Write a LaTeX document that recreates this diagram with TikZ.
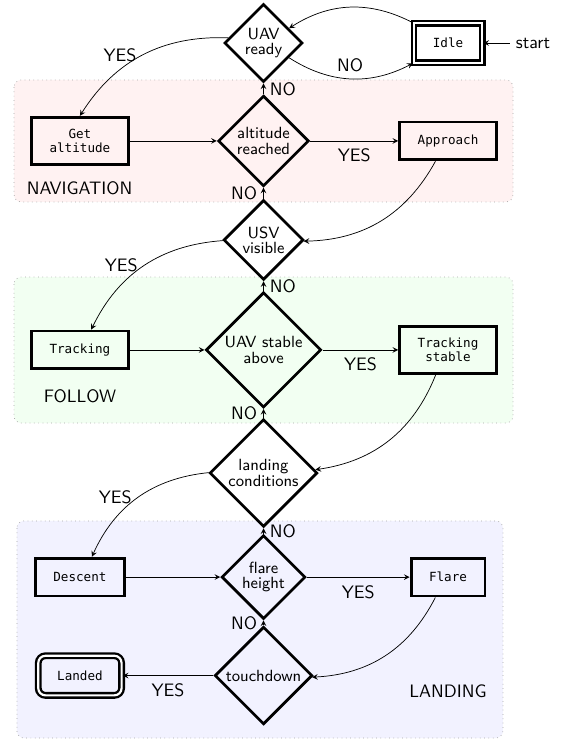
\documentclass[tikz,border=0pt]{standalone}
\usepackage{amssymb,amsmath}
\usepackage[usenames,dvipsnames]{xcolor}
\usepackage{fontspec}
\setmonofont{DejaVu Sans Mono}
\usepackage{tikz}
\usetikzlibrary{shapes.geometric}

\begin{document}
\sffamily
\begin{tikzpicture}[>=stealth,
  box/.style={draw, line width=1.6pt, font=\ttfamily\scriptsize, align=center, inner xsep=10pt, inner ysep=6.5pt, minimum height=21pt},
  endbox/.style={box, double, line width=1.3pt, double distance=1.2pt, inner xsep=10.5pt, minimum height=22pt},
  cond/.style={draw, diamond, aspect=1, line width=1.5pt, font={\sffamily\small\setlength{\baselineskip}{8.5pt}}, align=center, inner sep=1.5pt},
  region/.style={draw=gray!70, dotted, rounded corners=4pt}]
  \useasboundingbox (0,0) rectangle (31.17em,-41.11em);
  \foreach \ytop/\ybot/\xl/\xr/\col in {-4.44/-11.22/0.78/28.5/red,-15.39/-23.5/0.78/28.5/green,-28.94/-41/0.94/27.94/blue}
  	\filldraw[region, fill=\col!5] (\xl em,\ytop em) rectangle (\xr em,\ybot em);
  \node (navlabel) at (4.42em,-10.44em) {NAVIGATION};
  \node (followlabel) at (4.44em,-22em) {FOLLOW};
  \node (landinglabel) at (24.89em,-38.39em) {LANDING};
  
  \node[endbox] (idle) at (24.89em,-2.39em) {Idle};
  \node (start) at (29.61em,-2.39em) {start};
  \node[cond] (uavready) at (14.64em,-2.39em) {UAV\\ready};
  \node[box] (getalt) at (4.44em,-7.83em) {Get\\altitude};
  \node[cond] (altreached) at (14.64em,-7.83em) {altitude\\reached};
  \node[box] (approach) at (24.89em,-7.83em) {Approach};
  \node[cond] (usvvisible) at (14.64em,-13.33em) {USV\\visible};
  \node[box] (tracking) at (4.44em,-19.44em) {Tracking};
  \node[cond] (stable) at (14.64em,-19.44em) {UAV stable\\above};
  \node[box] (trackstable) at (24.89em,-19.44em) {Tracking\\stable};
  \node[cond] (landcond) at (14.64em,-26.28em) {landing\\conditions};
  \node[box] (descent) at (4.44em,-32.06em) {Descent};
  \node[cond] (flareheight) at (14.64em,-32.06em) {flare\\height};
  \node[box] (flare) at (24.89em,-32.06em) {Flare};
  \node[cond] (touchdown) at (14.64em,-37.53em) {touchdown};
  \node[endbox, rounded corners=4pt] (landed) at (4.44em,-37.53em) {Landed};
  
  \draw[->] (start) -- (idle);
  \draw[->] (idle) to[bend right] (uavready);
  \draw[->] (uavready) to[bend right] node[above] {NO} (idle);
  \draw[->] (uavready) to[bend right] node[left] {YES} (getalt.north);
  \draw[->] (getalt) -- (altreached);
  \draw[->] (altreached) -- node[below=1pt] {YES} (approach);
  \draw[->] (altreached) -- node[right] {NO} (uavready);
  \draw[->] (approach) to[bend left] (usvvisible);
  \draw[->] (usvvisible) -- node[left] {NO} (altreached);
  \draw[->] (usvvisible) to[bend right] node[left] {YES} (tracking);
  \draw[->] (tracking) -- (stable);
  \draw[->] (stable) -- node[below=1pt] {YES} (trackstable);
  \draw[->] (stable) -- node[right] {NO} (usvvisible);
  \draw[->] (trackstable) to[bend left] (landcond);
  \draw[->] (landcond) -- node[left] {NO} (stable);
  \draw[->] (landcond) to[bend right] node[left] {YES} (descent);
  \draw[->] (descent) -- (flareheight);
  \draw[->] (flareheight) -- node[below=1pt] {YES} (flare);
  \draw[->] (flareheight) -- node[right] {NO} (landcond);
  \draw[->] (flare) to[bend left] (touchdown);
  \draw[->] (touchdown) -- node[left] {NO} (flareheight);
  \draw[->] (touchdown) -- node[below=1pt] {YES} (landed);
\end{tikzpicture}
\end{document}
